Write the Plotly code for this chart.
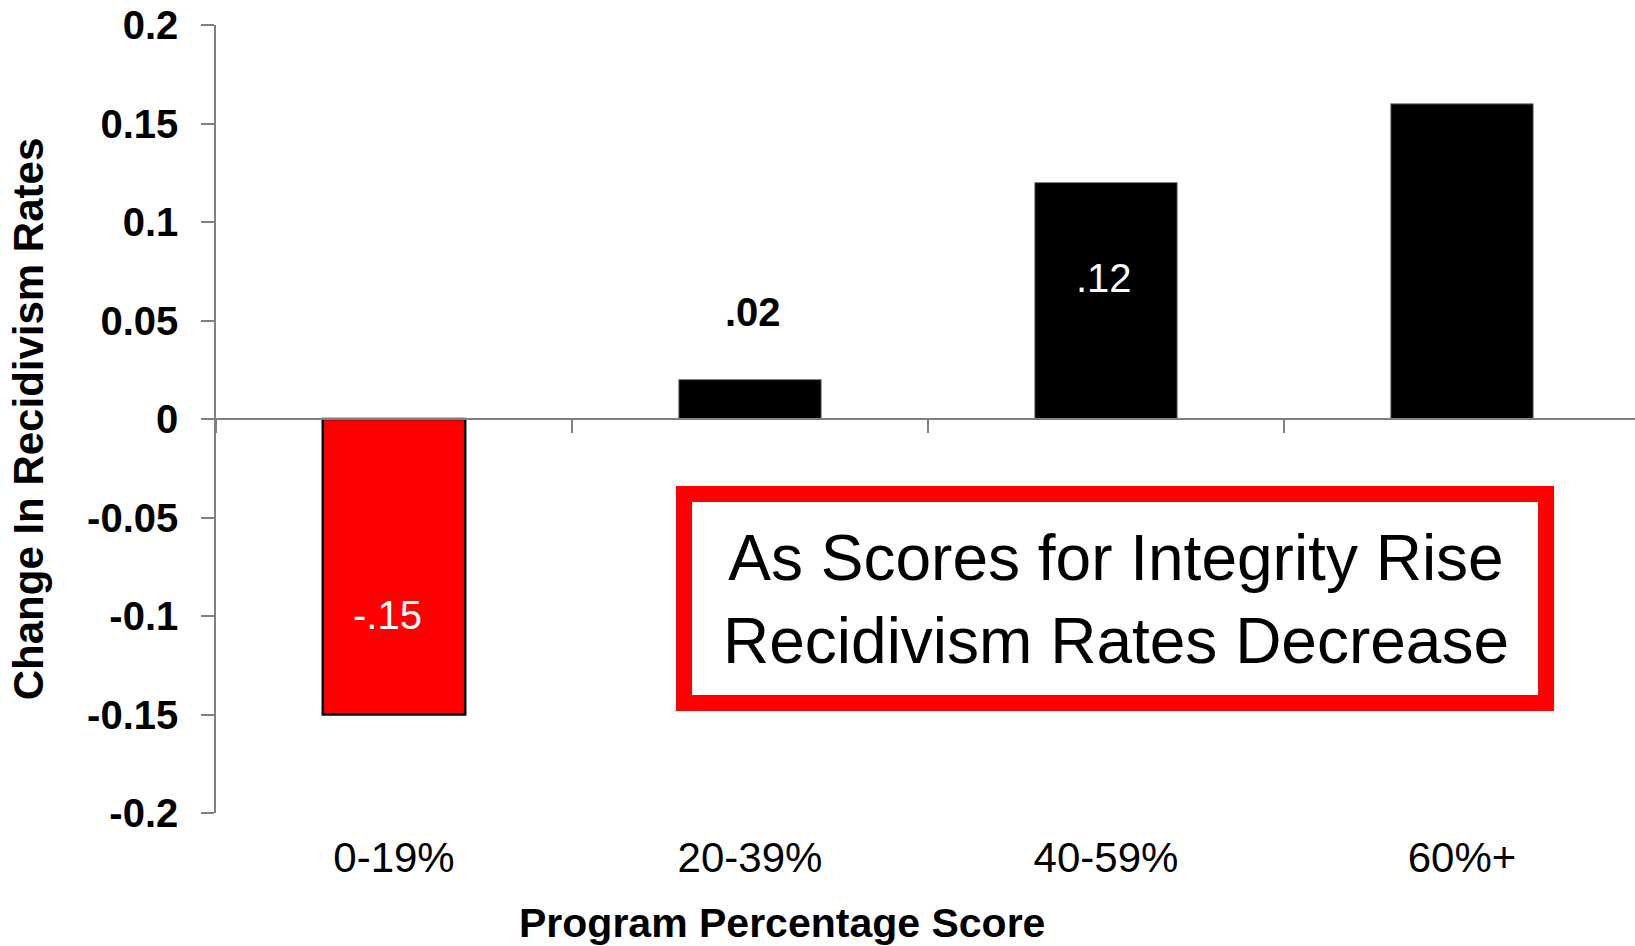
import plotly.graph_objects as go

# ---- data ----
categories = ["0-19%", "20-39%", "40-59%", "60%+"]
values = [-0.15, 0.02, 0.12, 0.16]
value_labels = ["-.15", ".02", ".12", ""]
bar_colors = ["#FF0000", "#000000", "#000000", "#000000"]
y_ticks = [-0.2, -0.15, -0.1, -0.05, 0, 0.05, 0.1, 0.15, 0.2]
y_tick_labels = ["-0.2", "-0.15", "-0.1", "-0.05", "0", "0.05", "0.1", "0.15", "0.2"]
box_text = "As Scores for Integrity Rise<br>Recidivism Rates Decrease"
x_title = "Program Percentage Score"
y_title = "Change In Recidivism Rates"

FONT = "Arial, Liberation Sans, sans-serif"

fig = go.Figure()
fig.add_trace(go.Bar(
    x=categories, y=values, width=0.4,
    marker=dict(color=bar_colors,
                line=dict(color=["#000000", "#808080", "#808080", "#808080"],
                          width=[2.5, 1, 1, 1])),
    hoverinfo="skip", showlegend=False,
))

# value labels
label_style = {
    "-.15": dict(color="white", bold=False, yshift=100, xshift=-7),
    ".02": dict(color="black", bold=True, yshift=68, xshift=3),
    ".12": dict(color="white", bold=False, yshift=-95, xshift=-2),
}
for cat, val, lab in zip(categories, values, value_labels):
    if not lab:
        continue
    st = label_style[lab]
    fig.add_annotation(
        x=cat, y=val, xref="x", yref="y", text=lab, showarrow=False,
        yshift=st["yshift"], xshift=st["xshift"],
        xanchor="center", yanchor="middle",
        font=dict(family=FONT, size=40, color=st["color"],
                  weight="bold" if st["bold"] else "normal"),
    )

# message box
fig.add_shape(type="rect", xref="paper", yref="paper",
              x0=0.3298, x1=0.9373, y0=0.1396, y1=0.4048,
              line=dict(color="#FF0000", width=16), fillcolor="white", layer="above")
fig.add_annotation(xref="paper", yref="paper", x=0.634, y=0.271,
                   xanchor="center", yanchor="middle",
                   text=box_text, showarrow=False,
                   font=dict(family=FONT, size=64, color="black"),
                   align="center")

# x-axis title
fig.add_annotation(xref="paper", yref="paper", x=0.399, y=0,
                   xanchor="center", yanchor="middle", yshift=-110,
                   text="<b>" + x_title + "</b>", showarrow=False,
                   font=dict(family=FONT, size=41, color="black"))

fig.update_layout(
    width=1635, height=946,
    margin=dict(l=216, r=0, t=25, b=133),
    paper_bgcolor="white", plot_bgcolor="white",
    font=dict(family=FONT, color="black"),
    bargap=0.6,
    xaxis=dict(
        type="category", categoryorder="array", categoryarray=categories,
        range=[-0.5, 3.486],
        anchor="free", position=0.5,
        showline=True, linecolor="#7f7f7f", linewidth=1.5,
        ticks="outside", tickson="boundaries", ticklen=13, tickcolor="#7f7f7f", tickwidth=1.5,
        showgrid=False, zeroline=False,
        tickfont=dict(family=FONT, size=42, color="black"),
        ticklabelstandoff=402,
        automargin=False,
    ),
    yaxis=dict(
        range=[-0.2, 0.2],
        tickvals=y_ticks, ticktext=y_tick_labels,
        showline=True, linecolor="#7f7f7f", linewidth=1.5,
        ticks="outside", ticklen=13, tickcolor="#7f7f7f", tickwidth=1.5,
        ticklabelstandoff=15,
        showgrid=False, zeroline=False,
        tickfont=dict(family=FONT, size=40, color="black", weight="bold"),
        title=dict(text="<b>" + y_title + "</b>",
                   font=dict(family=FONT, size=42, color="black"), standoff=30),
        automargin=False,
    ),
)

fig.write_html("out.html", config={"displayModeBar": False},
               post_script="document.body.style.margin='0';")
